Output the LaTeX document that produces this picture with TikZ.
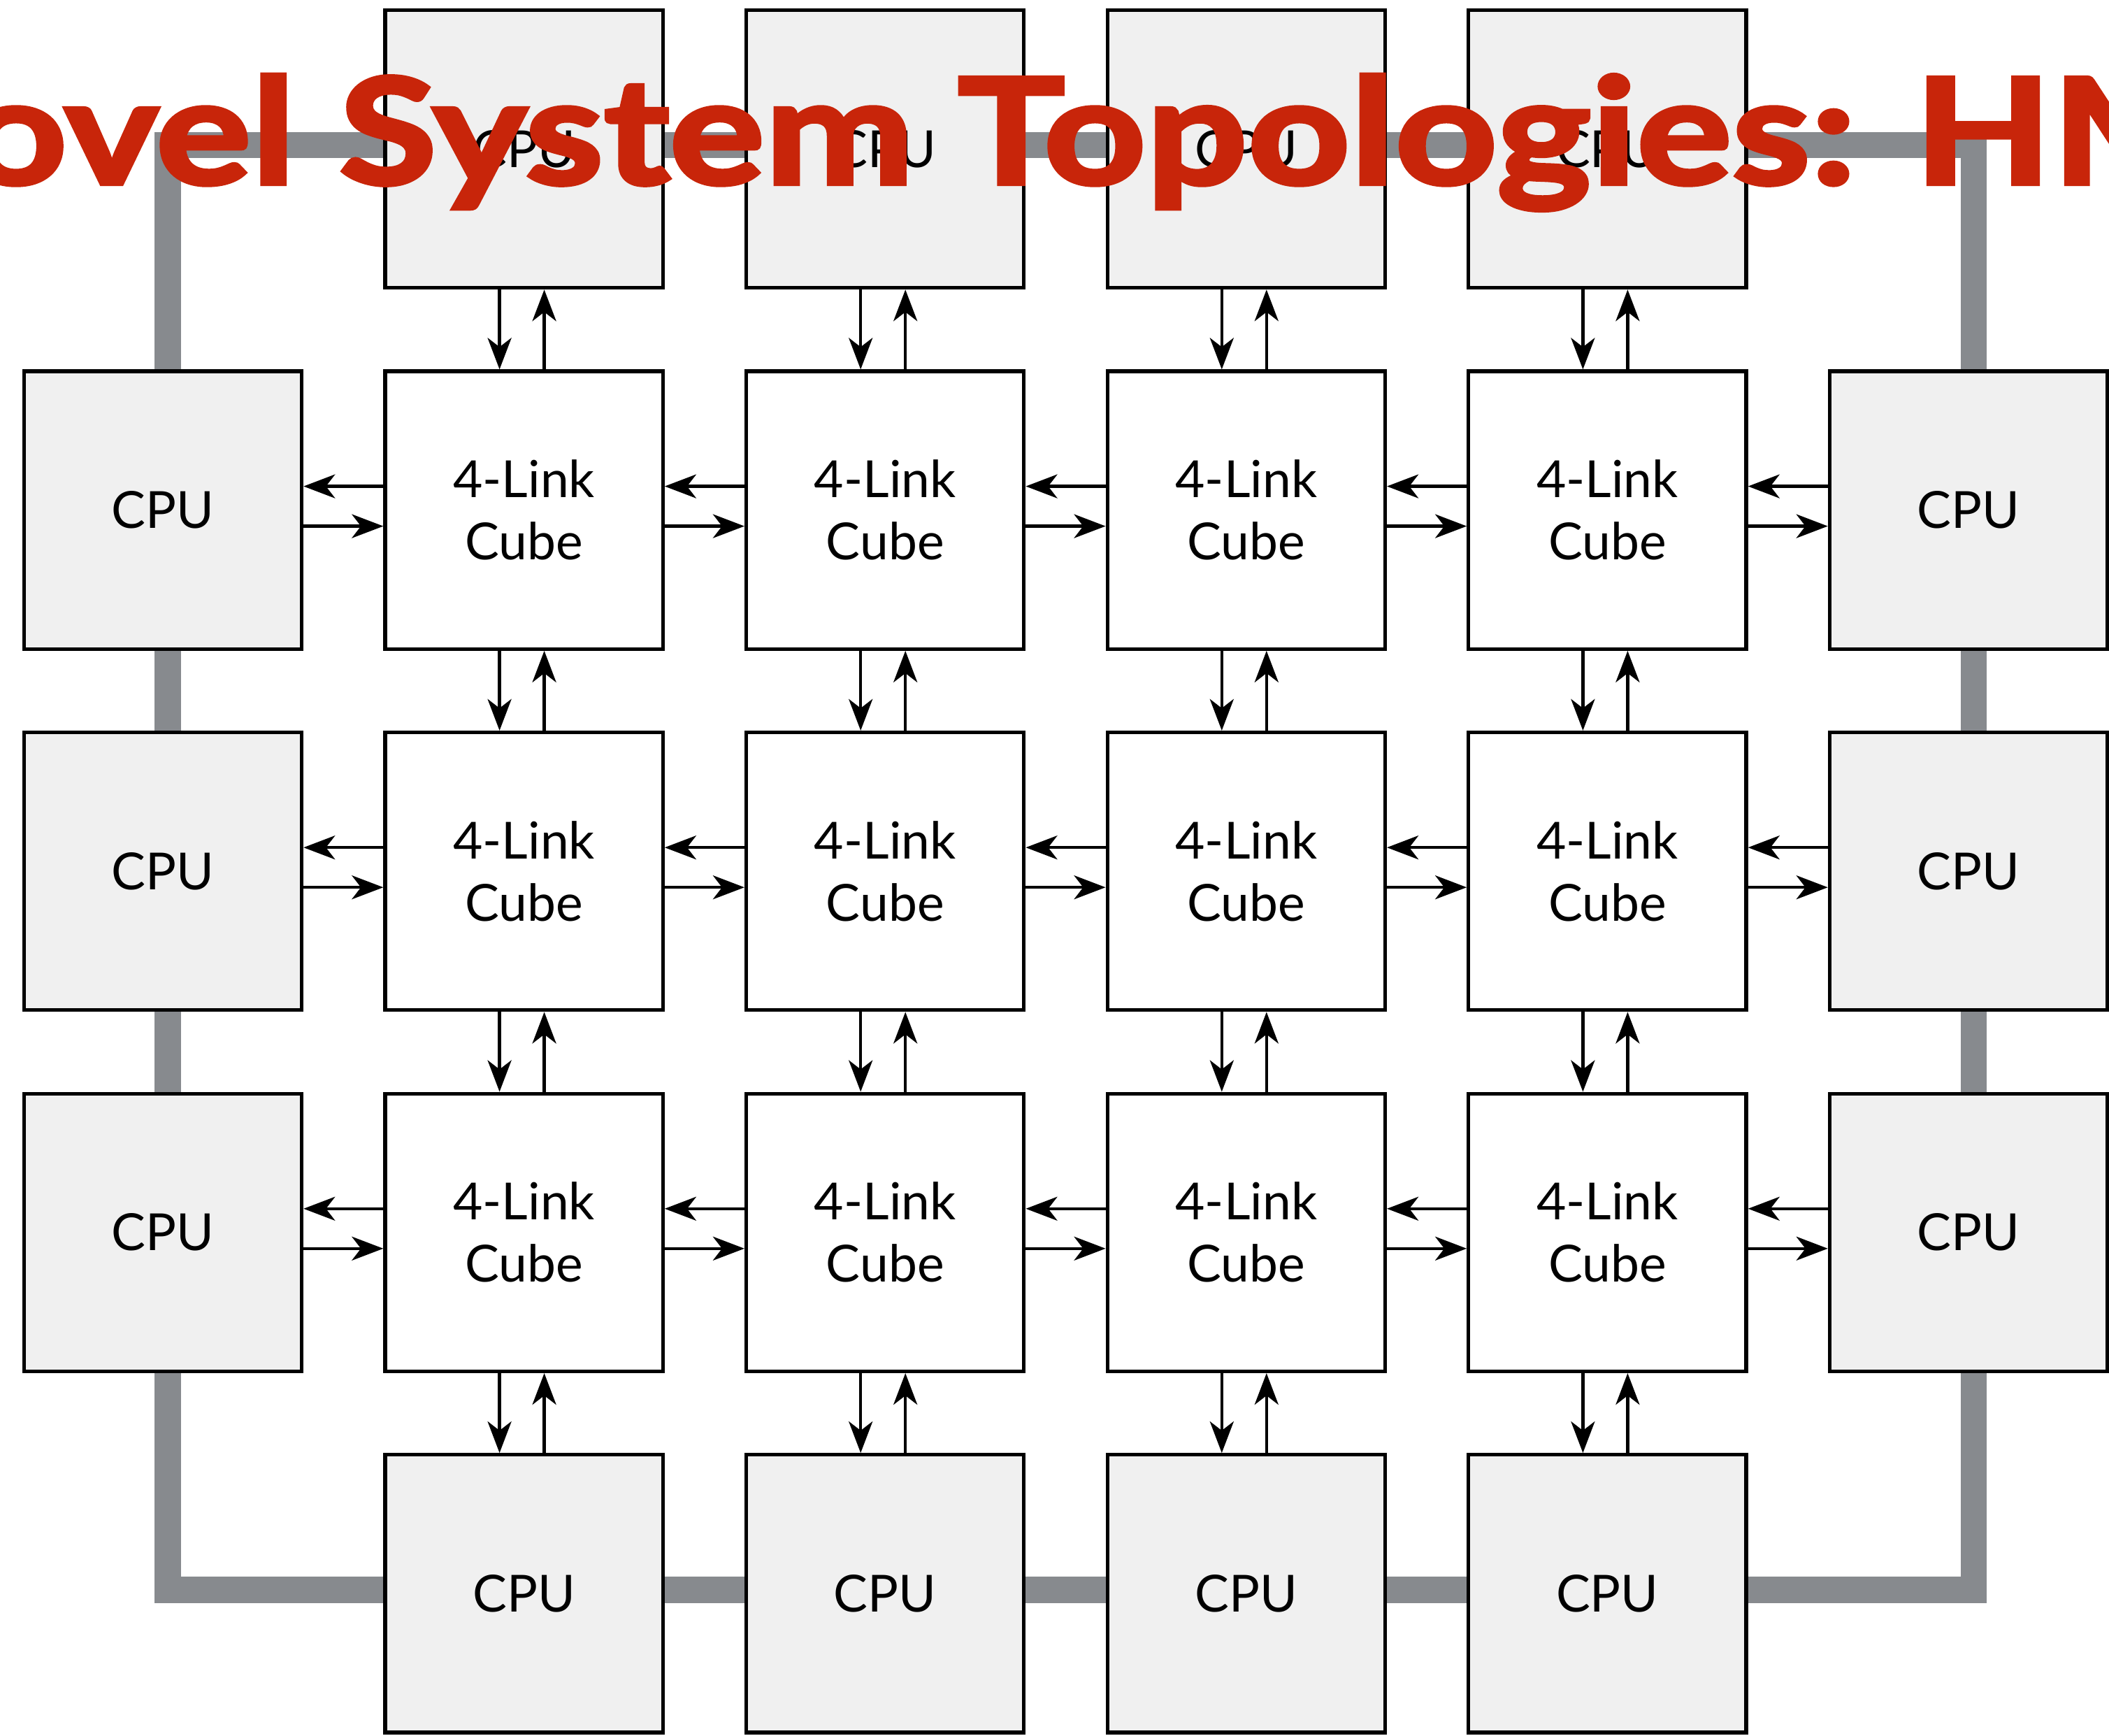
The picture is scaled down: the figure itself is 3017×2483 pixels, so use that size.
\documentclass[tikz,border=0pt]{standalone}
\usepackage{fontspec}
\setmainfont{Lato}
\newfontfamily\titlefont[FakeStretch=1.215, BoldFeatures={FakeBold=3}]{Lato}
\usepackage{xcolor}
\usepackage{tikz}
\usetikzlibrary{arrows.meta,calc}

\definecolor{ringgray}{RGB}{135,138,142}
\definecolor{cpufill}{RGB}{240,240,240}
\definecolor{titlered}{RGB}{200,37,10}

\begin{document}
\begin{tikzpicture}[x=0.01cm, y=-0.01cm,
  >={Stealth[length=0.45cm, width=0.34cm, inset=0.13cm]},
  unit/.style={draw, line width=1.5pt, minimum size=3.97cm, inner sep=0pt,
    align=center, font=\fontsize{20.8}{25.3}\selectfont},
  cpu/.style={unit, fill=cpufill},
  cube/.style={unit, fill=white},
  link/.style={->, line width=1.3pt, line cap=round}]
  \clip (0,0) rectangle (3017,2483);
  \pgfmathsetmacro{\pitch}{516.6}
  % ring behind the CPUs
  \draw[ringgray, line width=0.37cm] (240,208) rectangle (2823,2274);
  \foreach \i in {1,...,4} {
    \node[cpu] (n-\i-0) at ({233+\i*\pitch},213) {CPU};
    \node[cpu] (n-\i-4) at ({233+\i*\pitch},{213+4*\pitch}) {CPU};
  }
  \foreach \j in {1,2,3} {
    \node[cpu] (n-0-\j) at (233,{213+\j*\pitch}) {CPU};
    \node[cpu] (n-5-\j) at ({233+5*\pitch},{213+\j*\pitch}) {CPU};
    \foreach \i in {1,...,4}
      \node[cube] (n-\i-\j) at ({233+\i*\pitch},{213+\j*\pitch}) {4-Link\\Cube};
  }
  % links between neighbours
  \foreach \j in {1,2,3}
    \foreach \i in {0,...,4} {
      \pgfmathtruncatemacro{\nxt}{\i+1}
      \draw[link] ($(n-\nxt-\j.west)+(0,-34)$) -- ($(n-\i-\j.east)+(0,-34)$);
      \draw[link] ($(n-\i-\j.east)+(0,23)$) -- ($(n-\nxt-\j.west)+(0,23)$);
    }
  \foreach \i in {1,...,4}
    \foreach \j in {0,...,3} {
      \pgfmathtruncatemacro{\nxt}{\j+1}
      \draw[link] ($(n-\i-\j.south)+(-35,0)$) -- ($(n-\i-\nxt.north)+(-35,0)$);
      \draw[link] ($(n-\i-\nxt.north)+(29,0)$) -- ($(n-\i-\j.south)+(29,0)$);
    }
  \node[anchor=base west, text=titlered, inner sep=0pt,
    font=\titlefont\bfseries\fontsize{59.8}{60}\selectfont] (title) at (484,263)
    {\llap{Novel }System Topologies: HMC};
\end{tikzpicture}
\end{document}
